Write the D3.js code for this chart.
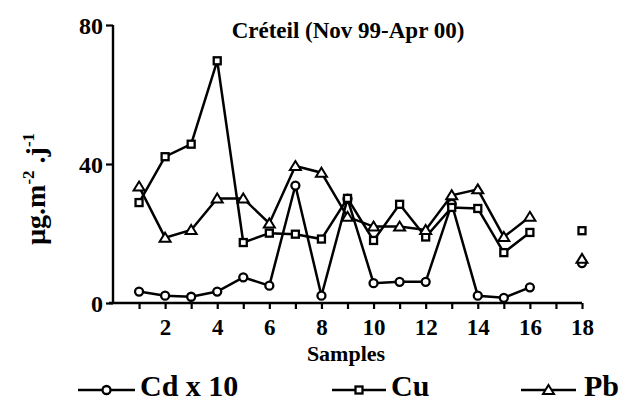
<!DOCTYPE html>
<html>
<head>
<meta charset="utf-8">
<script src="https://cdn.jsdelivr.net/npm/d3@7"></script>
<style>
html,body{margin:0;padding:0;background:#fff;}
svg{display:block;}
text{font-family:"Liberation Serif","Times New Roman",serif;font-weight:bold;fill:#000;}
</style>
</head>
<body>
<svg id="chart" width="621" height="403"></svg>
<script>
// ---- data ----
const samples = [1,2,3,4,5,6,7,8,9,10,11,12,13,14,15,16,17,18];
const cdX10 = [3.3,2.1,1.8,3.3,7.4,5.0,33.8,2.1,30.0,5.7,6.1,6.1,28.5,2.1,1.5,4.5,null,11.5];
const cu    = [28.9,42.1,45.7,69.7,17.4,20.1,19.8,18.4,30.1,18.0,28.4,19.0,27.5,27.2,14.5,20.3,null,20.8];
const pb    = [33.5,18.8,21.0,30.1,30.1,22.9,39.4,37.5,24.8,22.0,22.0,21.0,31.0,32.7,19.0,24.8,null,12.7];
const xTickLabels = [2,4,6,8,10,12,14,16,18];
const yTickLabels = [0,40,80];
const seriesNames = ["Cd x 10","Cu","Pb"];
const title = "Créteil (Nov 99-Apr 00)";
const xTitle = "Samples";

// ---- layout ----
const svg = d3.select("#chart");
const x = d3.scaleLinear().domain([0,18]).range([113,582]);
const y = d3.scaleLinear().domain([0,80]).range([303,25]);

const series = [
  {name: seriesNames[0], values: cdX10, shape: "circle"},
  {name: seriesNames[1], values: cu, shape: "square"},
  {name: seriesNames[2], values: pb, shape: "triangle"}
];

function drawMarker(g, shape, cx, cy) {
  if (shape === "circle") {
    g.append("circle").attr("cx",cx).attr("cy",cy).attr("r",4)
      .attr("fill","#fff").attr("stroke","#000").attr("stroke-width",2.3);
  } else if (shape === "square") {
    g.append("rect").attr("x",cx-3.5).attr("y",cy-3.5).attr("width",7).attr("height",7)
      .attr("fill","#fff").attr("stroke","#000").attr("stroke-width",2.3);
  } else {
    g.append("path").attr("d",`M${cx},${cy-5}L${cx+5.5},${cy+4}L${cx-5.5},${cy+4}Z`)
      .attr("fill","#fff").attr("stroke","#000").attr("stroke-width",2).attr("stroke-linejoin","miter");
  }
}

// axes
const yAxis = d3.axisLeft(y).tickValues(yTickLabels).tickSize(7).tickPadding(3).tickFormat(d3.format("d"));
const gy = svg.append("g").attr("transform",`translate(${x(0)},0)`).call(yAxis);
gy.select(".domain").attr("stroke-width",2.4).attr("d",`M0,${y(80)}V${y(0)}`);
gy.selectAll(".tick line").attr("stroke-width",2.2);
gy.selectAll(".tick text").style("font-size","24px").attr("dy","0.35em");

const xAxis = d3.axisBottom(x).tickValues(samples).tickSize(6).tickPadding(5)
  .tickFormat(d => xTickLabels.includes(d) ? d : "");
const gx = svg.append("g").attr("transform",`translate(0,${y(0)})`).call(xAxis);
gx.select(".domain").attr("stroke-width",2.6).attr("d",`M${x(0)-4},0H${x(18)}`);
gx.selectAll(".tick line").attr("stroke-width",2.2);
gx.selectAll(".tick text").style("font-size","23px").attr("dy","0.9em");

// lines and markers
const line = d3.line().defined(d => d.v !== null).x(d => x(d.s)).y(d => y(d.v));
series.forEach(sr => {
  const pts = samples.map((s,i) => ({s, v: sr.values[i]}));
  svg.append("path").datum(pts).attr("d", line)
    .attr("fill","none").attr("stroke","#000").attr("stroke-width",2.5).attr("stroke-linejoin","miter");
});
series.forEach(sr => {
  const g = svg.append("g");
  samples.forEach((s,i) => {
    if (sr.values[i] !== null) drawMarker(g, sr.shape, x(s), y(sr.values[i]));
  });
});

// title
svg.append("text").attr("x",348).attr("y",38).attr("text-anchor","middle")
  .style("font-size","23px").text(title);

// x title
svg.append("text").attr("x",346).attr("y",361).attr("text-anchor","middle")
  .style("font-size","22px").text(xTitle);

// y title
const yt = svg.append("text").attr("transform","translate(45,189) rotate(-90)")
  .attr("text-anchor","middle").style("font-size","28px");
yt.append("tspan").text("µg.m");
yt.append("tspan").attr("dy",-11).style("font-size","17px").text("-2");
yt.append("tspan").attr("dy",11).text(" .j");
yt.append("tspan").attr("dy",-11).style("font-size","17px").text("-1");

// legend
const legendPos = [{x0:78,x1:135,tx:140},{x0:332,x1:386,tx:391},{x0:521,x1:576,tx:584}];
series.forEach((sr,i) => {
  const p = legendPos[i];
  const g = svg.append("g");
  g.append("line").attr("x1",p.x0).attr("x2",p.x1).attr("y1",390).attr("y2",390)
    .attr("stroke","#000").attr("stroke-width",2.4);
  drawMarker(g, sr.shape, (p.x0+p.x1)/2, 390);
  g.append("text").attr("x",p.tx).attr("y",396).style("font-size","30px").text(sr.name);
});
</script>
</body>
</html>
